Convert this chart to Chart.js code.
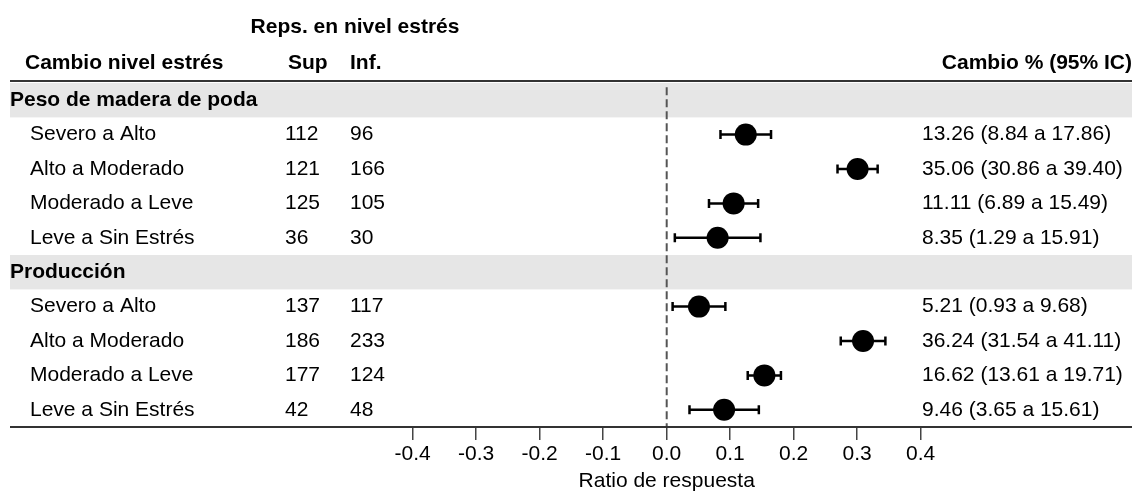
<!DOCTYPE html>
<html>
<head>
<meta charset="utf-8">
<script src="https://cdn.jsdelivr.net/npm/chart.js@4.4.1/dist/chart.umd.min.js"></script>
<style>
  html, body { margin: 0; padding: 0; background: #ffffff; }
  #wrap { width: 1142px; height: 491px; position: relative; }
</style>
</head>
<body>
<div id="wrap"><canvas id="c" width="1142" height="491"></canvas></div>
<script>
// ---- data ----
const groupNames = ['Peso de madera de poda', 'Producción'];
const rowLabels = ['Severo a Alto', 'Alto a Moderado', 'Moderado a Leve', 'Leve a Sin Estrés',
                   'Severo a Alto', 'Alto a Moderado', 'Moderado a Leve', 'Leve a Sin Estrés'];
const supReps = [112, 121, 125, 36, 137, 186, 177, 42];
const infReps = [96, 166, 105, 30, 117, 233, 124, 48];
// response ratio (point estimate, lower and upper 95% CI)
const estimate = [0.1245, 0.3006, 0.1054, 0.0802, 0.0508, 0.3092, 0.1538, 0.0904];
const lower    = [0.0847, 0.2690, 0.0666, 0.0128, 0.0093, 0.2741, 0.1276, 0.0359];
const upper    = [0.1643, 0.3322, 0.1440, 0.1476, 0.0924, 0.3444, 0.1799, 0.1451];
const changeText = ['13.26 (8.84 a 17.86)', '35.06 (30.86 a 39.40)', '11.11 (6.89 a 15.49)', '8.35 (1.29 a 15.91)',
                    '5.21 (0.93 a 9.68)', '36.24 (31.54 a 41.11)', '16.62 (13.61 a 19.71)', '9.46 (3.65 a 15.61)'];
const xTickValues = [-0.4, -0.3, -0.2, -0.1, 0.0, 0.1, 0.2, 0.3, 0.4];
const headerSpan = 'Reps. en nivel estrés';
const colHeaders = ['Cambio nivel estrés', 'Sup', 'Inf.', 'Cambio % (95% IC)'];
const xTitle = 'Ratio de respuesta';

// row layout: group header rows and item rows
const groupRows = [0, 5];
const itemRows = [1, 2, 3, 4, 6, 7, 8, 9];

const FONT = '"Liberation Sans", Arial, sans-serif';
const TXT = '#000000';

const datasets = [];
// points (first dataset => drawn on top)
datasets.push({
  type: 'scatter',
  data: estimate.map((v, i) => ({ x: v, y: itemRows[i] })),
  pointRadius: 11,
  pointBackgroundColor: '#000000',
  pointBorderWidth: 0,
  pointHoverRadius: 11
});
// error bars with caps
estimate.forEach((v, i) => {
  datasets.push({
    type: 'line',
    data: [{ x: lower[i], y: itemRows[i] }, { x: upper[i], y: itemRows[i] }],
    borderColor: '#000000',
    borderWidth: 2.5,
    pointStyle: 'line',
    rotation: 90,
    pointRadius: 4.5,
    pointBorderWidth: 2.5,
    pointBorderColor: '#000000',
    pointHoverRadius: 4.5
  });
});
// reference line at zero
datasets.push({
  type: 'line',
  data: [{ x: 0, y: -0.38 }, { x: 0, y: 9.5 }],
  borderColor: '#555555',
  borderWidth: 2,
  borderDash: [8, 4],
  pointRadius: 0,
  pointHoverRadius: 0
});

const tablePlugin = {
  id: 'tablePlugin',
  beforeDatasetsDraw(chart) {
    const ctx = chart.ctx;
    const ys = chart.scales.y;
    ctx.save();
    ctx.fillStyle = '#e6e6e6';
    groupRows.forEach(r => {
      const t = ys.getPixelForValue(r - 0.5);
      const b = ys.getPixelForValue(r + 0.5);
      ctx.fillRect(10, t, 1122, b - t);
    });
    ctx.restore();
  },
  afterDraw(chart) {
    const ctx = chart.ctx;
    const ys = chart.scales.y;
    ctx.save();
    // header line and bottom line
    ctx.strokeStyle = '#333333';
    ctx.lineWidth = 2;
    const topY = ys.getPixelForValue(-0.5) - 2;
    ctx.beginPath(); ctx.moveTo(10, topY); ctx.lineTo(1132, topY); ctx.stroke();
    const botY = ys.getPixelForValue(9.5);
    ctx.beginPath(); ctx.moveTo(10, botY); ctx.lineTo(1132, botY); ctx.stroke();

    ctx.fillStyle = TXT;
    ctx.textBaseline = 'middle';
    // headers
    ctx.font = 'bold 21px ' + FONT;
    ctx.textAlign = 'center';
    ctx.fillText(headerSpan, 355, 27);
    ctx.textAlign = 'left';
    ctx.fillText(colHeaders[0], 25, 63);
    ctx.fillText(colHeaders[1], 288, 63);
    ctx.fillText(colHeaders[2], 350, 63);
    ctx.textAlign = 'right';
    ctx.fillText(colHeaders[3], 1132, 63);
    // group names
    ctx.textAlign = 'left';
    groupRows.forEach((r, g) => {
      ctx.fillText(groupNames[g], 10, ys.getPixelForValue(r));
    });
    // rows
    ctx.font = '21px ' + FONT;
    itemRows.forEach((r, i) => {
      const y = ys.getPixelForValue(r);
      ctx.fillText(rowLabels[i], 30, y);
      ctx.fillText(String(supReps[i]), 285, y);
      ctx.fillText(String(infReps[i]), 350, y);
      ctx.fillText(changeText[i], 922, y);
    });
    ctx.restore();
  }
};

new Chart(document.getElementById('c'), {
  data: { datasets },
  options: {
    responsive: false,
    animation: false,
    events: [],
    layout: { padding: { left: 412.7, right: 221.3, top: 83, bottom: 0 } },
    plugins: { legend: { display: false }, tooltip: { enabled: false } },
    scales: {
      x: {
        type: 'linear',
        min: -0.4,
        max: 0.4,
        afterFit(s) { s.height = 64; },
        afterBuildTicks(s) { s.ticks = xTickValues.map(v => ({ value: v })); },
        ticks: {
          color: TXT,
          padding: 2,
          font: { family: FONT, size: 21 },
          callback: v => Number(v).toFixed(1),
          maxRotation: 0,
          autoSkip: false
        },
        grid: {
          drawOnChartArea: false,
          drawTicks: true,
          tickLength: 13,
          color: '#444444',
          lineWidth: 1.5
        },
        border: { display: true, color: '#333333', width: 2 },
        title: {
          display: true,
          text: xTitle,
          color: TXT,
          font: { family: FONT, size: 21, lineHeight: 0.9 },
          padding: { top: 0, bottom: 0 }
        }
      },
      y: {
        type: 'linear',
        reverse: true,
        min: -0.5,
        max: 9.5,
        display: false
      }
    }
  },
  plugins: [tablePlugin]
});
</script>
</body>
</html>
